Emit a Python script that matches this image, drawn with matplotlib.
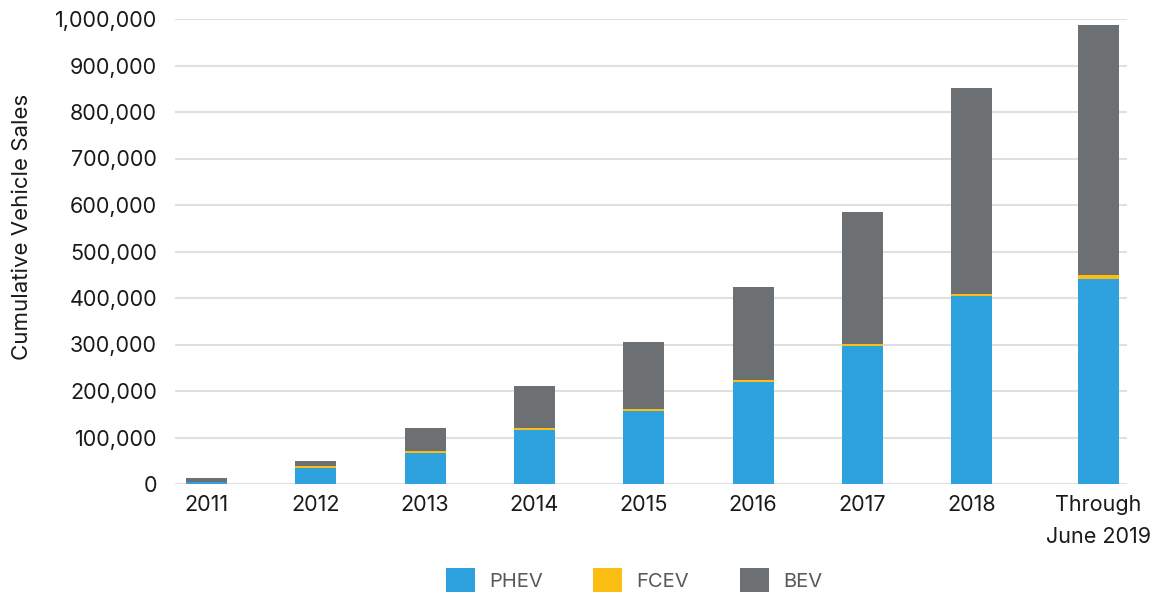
import matplotlib
matplotlib.use("Agg")
import matplotlib.pyplot as plt
from matplotlib.ticker import FuncFormatter
from matplotlib.patches import Patch
import numpy as np

categories = ["2011", "2012", "2013", "2014", "2015", "2016", "2017", "2018", "Through\nJune 2019"]
phev = [5000, 34400, 66700, 116100, 157000, 219400, 296800, 404300, 440900]
fcev = [300, 3500, 4000, 4500, 4500, 4500, 4500, 5000, 8500]
bev = [7600, 11600, 49700, 90200, 143900, 199800, 283000, 442300, 537700]

c_phev = "#2EA2DE"
c_fcev = "#FDBE14"
c_bev = "#6C7073"

plt.rcParams['font.family'] = ['Inter', 'DejaVu Sans']

fig = plt.figure(figsize=(11.58, 5.98), dpi=100)
ax = fig.add_axes([175/1158, 1-484/598, (1127-175)/1158, (484-19)/598])

x = np.arange(len(categories), dtype=float)
x[-1] = 8.16
w = 0.375
phev_a = np.array(phev)
fcev_a = np.array(fcev)
bev_a = np.array(bev)
ax.bar(x, phev_a, w, color=c_phev, zorder=3)
ax.bar(x, fcev_a, w, bottom=phev_a, color=c_fcev, zorder=3)
ax.bar(x, bev_a, w, bottom=phev_a + fcev_a, color=c_bev, zorder=3)

ax.set_ylim(0, 1000000)
ax.set_xlim(-0.288, 8.42)
ax.set_yticks(np.arange(0, 1000001, 100000))
ax.yaxis.set_major_formatter(FuncFormatter(lambda v, p: f"{int(v):,}"))
ax.set_xticks(x)
ax.set_xticklabels(categories, linespacing=1.75)
ax.tick_params(axis='both', length=0, labelsize=15.5, colors="#1a1a1a")
ax.tick_params(axis='y', pad=13)
ax.tick_params(axis='x', pad=8)
for s in ax.spines.values():
    s.set_visible(False)
ax.grid(axis='y', color="#e0e0e0", linewidth=1.5, zorder=0)
ax.set_axisbelow(True)

ax.set_ylabel("Cumulative Vehicle Sales", fontsize=16, color="#1a1a1a")
ax.yaxis.set_label_coords(-0.150, 0.553)

handles = [Patch(facecolor=c_phev, label="PHEV"),
           Patch(facecolor=c_fcev, label="FCEV"),
           Patch(facecolor=c_bev, label="BEV")]
leg = fig.legend(handles=handles, loc="center", bbox_to_anchor=(634/1158, 1-580/598),
                 ncol=3, frameon=False, fontsize=14.5, handlelength=1.44, handleheight=1.44,
                 handletextpad=0.72, columnspacing=2.5, borderpad=0)
for t in leg.get_texts():
    t.set_color("#595959")

fig.savefig("out.png", dpi=100)
